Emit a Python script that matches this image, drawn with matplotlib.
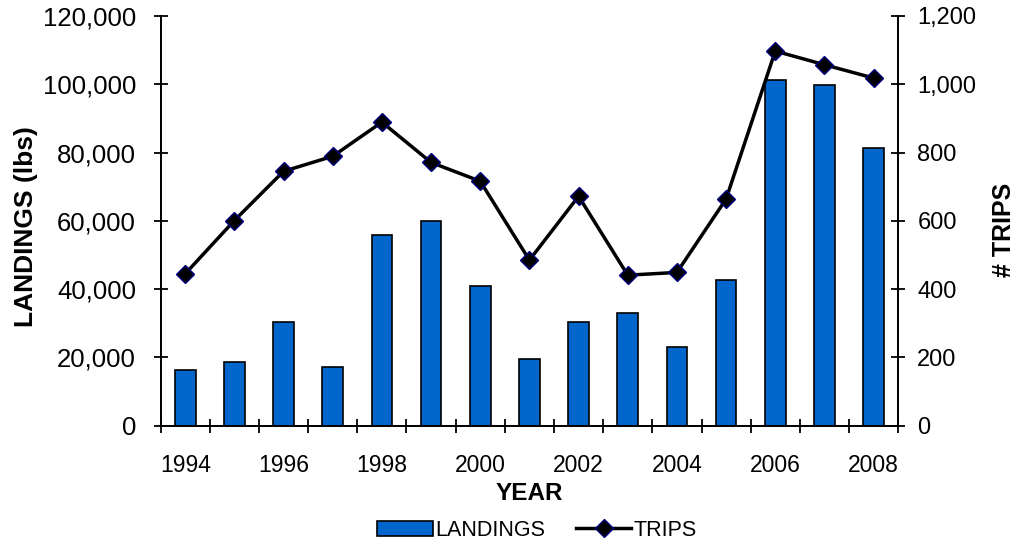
import matplotlib.pyplot as plt
from matplotlib.ticker import FuncFormatter, FixedLocator

plt.rcParams["font.family"] = ["Liberation Sans", "DejaVu Sans"]

years = list(range(1994, 2009))
landings = [16300, 18700, 30500, 17300, 56000, 60000, 40800, 19700,
            30500, 32900, 23100, 42800, 101300, 99800, 81200]
trips = [445, 601, 745, 789, 889, 771, 716, 485,
         672, 441, 449, 664, 1097, 1057, 1018]

fig = plt.figure(figsize=(10.23, 5.48), dpi=100)
ax = fig.add_axes([0.157, 0.223, 0.721, 0.748])
ax2 = ax.twinx()

x = list(range(len(years)))
bars = ax.bar(x, landings, width=0.42, color="#0066CC", edgecolor="black",
              linewidth=1.2, label="LANDINGS", zorder=2)
line, = ax2.plot(x, trips, color="black", linewidth=2.5, marker="D",
                 markersize=9, markerfacecolor="black",
                 markeredgecolor="#000080", markeredgewidth=1, label="TRIPS")

ax.set_xlim(-0.5, len(years) - 0.5)
ax.set_ylim(0, 120000)
ax2.set_ylim(0, 1200)
ax.set_yticks(range(0, 120001, 20000))
ax2.set_yticks(range(0, 1201, 200))
ax.yaxis.set_major_formatter(FuncFormatter(lambda v, p: f"{int(v):,}"))
ax2.yaxis.set_major_formatter(FuncFormatter(lambda v, p: f"{int(v):,}"))

# year labels every other category, tick marks between categories
ax.set_xticks(x[::2])
ax.set_xticklabels([str(y) for y in years[::2]])
ax.xaxis.set_minor_locator(FixedLocator([i - 0.5 for i in range(len(years) + 1)]))
ax.tick_params(axis="x", which="major", length=0, pad=20, labelsize=16.5)
ax.tick_params(axis="x", which="minor", direction="inout", length=9.5, width=1.3)
ax.tick_params(axis="y", direction="inout", length=9.5, width=1.3, pad=13, labelsize=18.5)
ax2.tick_params(axis="y", direction="inout", length=9.5, width=1.3, pad=9, labelsize=17)

for a in (ax, ax2):
    a.spines["top"].set_visible(False)
    for s in ("left", "right", "bottom"):
        a.spines[s].set_linewidth(1.3)

ax.set_xlabel("YEAR", fontsize=17.5, fontweight="bold", labelpad=4)
ax.set_ylabel("LANDINGS (lbs)", fontsize=19, fontweight="bold")
ax.yaxis.set_label_coords(-0.166, 0.485)
ax2.set_ylabel("# TRIPS", fontsize=18, fontweight="bold")
ax2.yaxis.set_label_coords(1.127, 0.478)

fig.legend([bars, line], ["LANDINGS", "TRIPS"], loc="lower center",
           bbox_to_anchor=(0.525, -0.022), ncol=2, frameon=False, fontsize=15.5,
           handlelength=2.6, handletextpad=0.1, columnspacing=1.4)

fig.savefig("out.png", dpi=100)
